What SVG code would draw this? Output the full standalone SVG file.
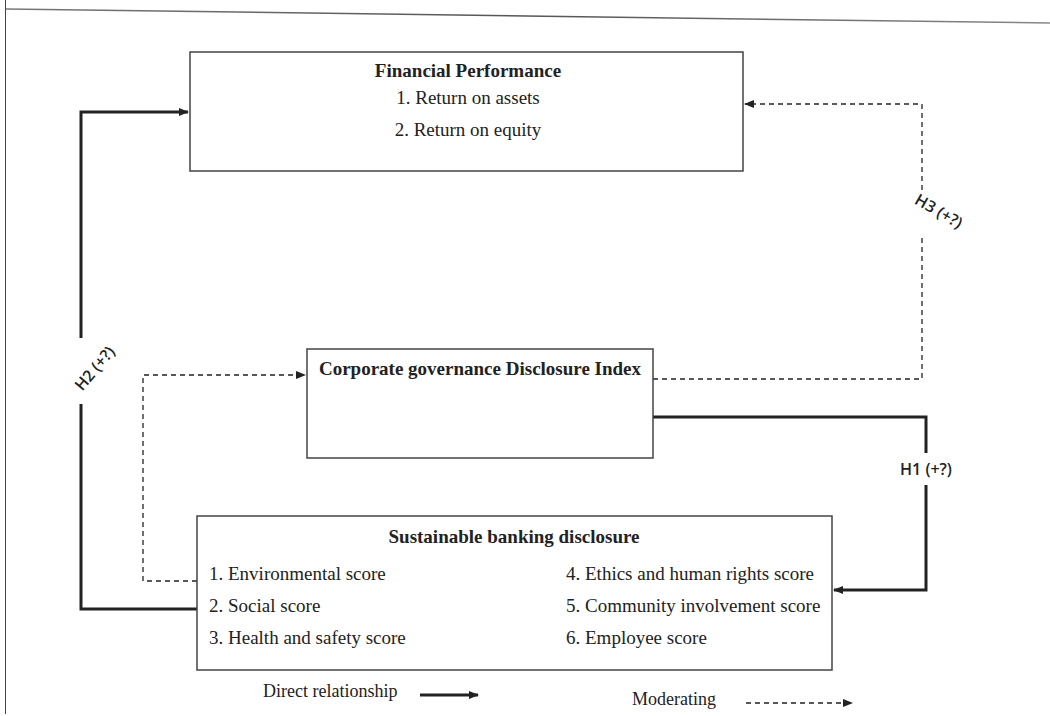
<svg xmlns="http://www.w3.org/2000/svg" width="1050" height="716" viewBox="0 0 1050 716">
<defs>
<marker id="ah" markerWidth="10" markerHeight="8" refX="9" refY="4" orient="auto" markerUnits="userSpaceOnUse">
<path d="M0,0 L10,4 L0,8 Z" fill="#222"/>
</marker>
<linearGradient id="tg" x1="0" y1="0" x2="1" y2="0">
<stop offset="0" stop-color="#777"/>
<stop offset="0.5" stop-color="#555"/>
<stop offset="1" stop-color="#888"/>
</linearGradient>
</defs>
<style>
.box{fill:#fff;stroke:#444;stroke-width:1.5}
.solid{fill:none;stroke:#222;stroke-width:3}
.dash{fill:none;stroke:#222;stroke-width:1.3;stroke-dasharray:5,4}
.title{font-family:"Liberation Serif",serif;font-weight:bold;font-size:19px;fill:#222}
.item{font-family:"Liberation Serif",serif;font-size:19px;fill:#222}
.hl{font-family:"Open Sans","Liberation Sans",sans-serif;font-weight:600;font-size:16px;fill:#222}
.leg{font-family:"Liberation Serif",serif;font-size:18px;fill:#222}
</style>
<rect width="1050" height="716" fill="#fff"/>
<line x1="6" y1="9" x2="1050" y2="23" stroke="url(#tg)" stroke-width="1.5"/>
<line x1="5.5" y1="0" x2="5.5" y2="714" stroke="#444" stroke-width="1"/>

<g id="connectors">
<path class="solid" d="M197,609 H81 V404"/>
<path class="solid" d="M81,338 V112 H188" marker-end="url(#ah)"/>
<path class="dash" d="M653,379 H922 V238"/>
<path class="dash" d="M922,190 V104 H745" marker-end="url(#ah)"/>
<path class="solid" d="M653,417 H926 V453"/>
<path class="solid" d="M926,485 V590 H834" marker-end="url(#ah)"/>
<path class="dash" d="M197,581 H143 V375 H305" marker-end="url(#ah)"/>
<text class="hl" transform="translate(99,372) rotate(-50)" text-anchor="middle">H2 (+?)</text>
<text class="hl" transform="translate(936,216) rotate(30)" text-anchor="middle">H3 (+?)</text>
<text class="hl" x="926" y="475" text-anchor="middle">H1 (+?)</text>
</g>

<g id="financial-performance">
<rect class="box" x="190" y="52" width="553" height="119"/>
<text class="title" x="468" y="77" text-anchor="middle">Financial Performance</text>
<text class="item" x="468" y="104" text-anchor="middle">1. Return on assets</text>
<text class="item" x="468" y="136" text-anchor="middle">2. Return on equity</text>
</g>

<g id="cg-index">
<rect class="box" x="307" y="349" width="346" height="109"/>
<text class="title" x="480" y="375" text-anchor="middle">Corporate governance Disclosure Index</text>
</g>

<g id="sbd">
<rect class="box" x="197" y="516" width="635" height="154"/>
<text class="title" x="514" y="543" text-anchor="middle">Sustainable banking disclosure</text>
<text class="item" x="209" y="580">1. Environmental score</text>
<text class="item" x="209" y="612">2. Social score</text>
<text class="item" x="209" y="644">3. Health and safety score</text>
<text class="item" x="566" y="580">4. Ethics and human rights score</text>
<text class="item" x="566" y="612">5. Community involvement score</text>
<text class="item" x="566" y="644">6. Employee score</text>
</g>

<g id="legend">
<text class="leg" x="263" y="697">Direct relationship</text>
<line class="solid" x1="420" y1="695" x2="478" y2="695" stroke-width="2.5" marker-end="url(#ah)"/>
<text class="leg" x="632" y="705">Moderating</text>
<line class="dash" x1="746" y1="703" x2="852" y2="703" marker-end="url(#ah)"/>
</g>
</svg>
